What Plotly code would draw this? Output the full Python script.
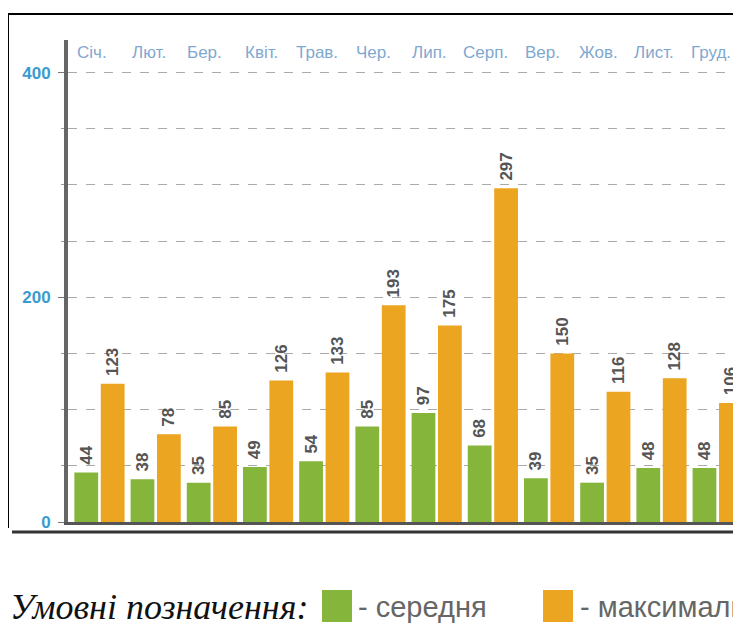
import plotly.graph_objects as go

months = ["Січ.", "Лют.", "Бер.", "Квіт.", "Трав.", "Чер.", "Лип.", "Серп.", "Вер.", "Жов.", "Лист.", "Груд."]
avg_vals = [44, 38, 35, 49, 54, 85, 97, 68, 39, 35, 48, 48]
max_vals = [123, 78, 85, 126, 133, 193, 175, 297, 150, 116, 128, 106]
y_tick_vals = [0, 200, 400]
legend_title = "Умовні позначення:"
name_avg = "- середня"
name_max = "- максимальна"

GREEN = "#85b53b"
ORANGE = "#eca520"

label_font = dict(size=17, color="#555555", family="Liberation Sans", weight="bold")

fig = go.Figure()
fig.add_trace(go.Bar(
    x=months, y=avg_vals, name=name_avg, marker=dict(color=GREEN, line=dict(width=0)),
    texttemplate="\u00a0%{y}", textposition="outside", textangle=-90, constraintext="none",
    textfont=label_font, cliponaxis=False, showlegend=False,
))
fig.add_trace(go.Bar(
    x=months, y=max_vals, name=name_max, marker=dict(color=ORANGE, line=dict(width=0)),
    texttemplate="\u00a0%{y}", textposition="outside", textangle=-90, constraintext="none",
    textfont=label_font, cliponaxis=False, showlegend=False,
))

# month labels along the top, inside the plot area
for m in months:
    fig.add_annotation(x=m, y=1.0, xref="x", yref="paper", yanchor="top", yshift=-1,
                       xshift=-7, text=m, showarrow=False,
                       font=dict(size=17, color="#7fa8d0",
                                 family="Liberation Sans Narrow, Arial Narrow, sans-serif"))

# page pixel -> paper coordinates (page has an 8px body margin)
def px(xp):
    return (xp - 68) / 681

def py(yp):
    return (522 - yp) / 482

fig.add_annotation(x=px(8), y=py(607), xref="paper", yref="paper", xanchor="left", yanchor="middle",
                   text="<i>" + legend_title + "</i>", showarrow=False,
                   font=dict(size=36, color="#111111", family="Liberation Serif, serif"))
fig.add_shape(type="rect", xref="paper", yref="paper", x0=px(322), x1=px(352), y0=py(590), y1=py(622),
              fillcolor=GREEN, line=dict(width=0))
fig.add_annotation(x=px(356), y=py(607), xref="paper", yref="paper", xanchor="left", yanchor="middle",
                   text=name_avg, showarrow=False,
                   font=dict(size=29, color="#666666", family="Liberation Sans Narrow, sans-serif"))
fig.add_shape(type="rect", xref="paper", yref="paper", x0=px(543), x1=px(573), y0=py(590), y1=py(622),
              fillcolor=ORANGE, line=dict(width=0))
fig.add_annotation(x=px(578), y=py(607), xref="paper", yref="paper", xanchor="left", yanchor="middle",
                   text=name_max, showarrow=False,
                   font=dict(size=29, color="#666666", family="Liberation Sans Narrow, sans-serif"))

# frame lines from the scanned picture
fig.add_shape(type="line", xref="paper", yref="paper", x0=px(8), x1=px(750), y0=py(14), y1=py(14),
              line=dict(color="#000000", width=2))
fig.add_shape(type="line", xref="paper", yref="paper", x0=px(8), x1=px(8), y0=py(14), y1=py(528),
              line=dict(color="#000000", width=2))
fig.add_shape(type="line", xref="paper", yref="paper", x0=px(12), x1=px(750), y0=py(532), y1=py(532),
              line=dict(color="#333333", width=3))

fig.update_layout(
    width=741, height=628,
    margin=dict(l=60, r=0, t=32, b=114),
    paper_bgcolor="white", plot_bgcolor="white",
    barmode="group", bargap=0.06, bargroupgap=0.1,
    xaxis=dict(range=[-0.56, 11.557], showticklabels=False, ticks="", showgrid=False,
               showline=True, linecolor="#555555", linewidth=3, zeroline=False, fixedrange=True),
    yaxis=dict(range=[0, 429], tickvals=y_tick_vals, ticks="outside", ticklen=6, tickcolor="#777777",
               tickfont=dict(size=17, color="#3a9bd0", family="Liberation Sans", weight="bold"),
               showgrid=True, gridcolor="#aaaaaa", griddash="dash", gridwidth=1,
               minor=dict(dtick=50, showgrid=True, gridcolor="#aaaaaa", griddash="dash",
                          ticks="outside", ticklen=3, tickcolor="#999999"),
               showline=True, linecolor="#666666", linewidth=4, zeroline=False, ticklabelstandoff=4),
    font=dict(family="Liberation Sans"),
)

fig.write_html("out.html")
